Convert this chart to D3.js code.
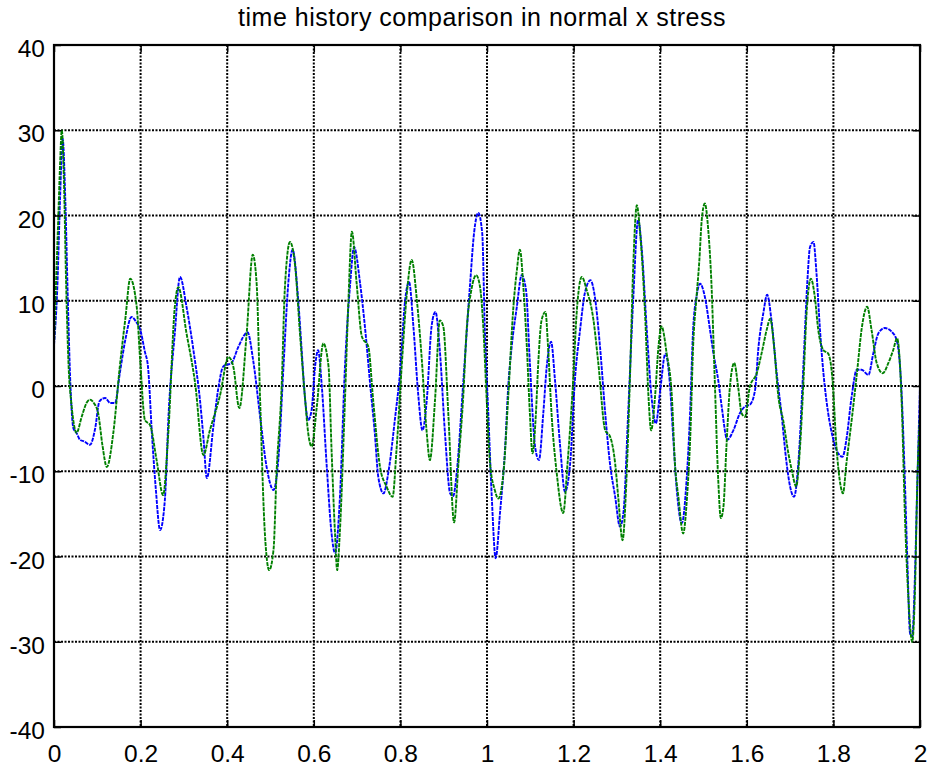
<!DOCTYPE html>
<html>
<head>
<style>
body { margin: 0; background: #fff; }
text { font-family: "Liberation Sans", Arial, sans-serif; fill: #000; }
.grid line { stroke: #000; stroke-width: 2; stroke-dasharray: 2,1.5; }
.trace { fill: none; stroke-width: 1.9; stroke-dasharray: 4,1; }
</style>
<script src="https://d3js.org/d3.v7.min.js"></script>
</head>
<body>
<svg width="934" height="772"></svg>
<script>
// tick labels
var xTicks = [0, 0.2, 0.4, 0.6, 0.8, 1, 1.2, 1.4, 1.6, 1.8, 2];
var xTickLabels = ["0", "0.2", "0.4", "0.6", "0.8", "1", "1.2", "1.4", "1.6", "1.8", "2"];
var yTicks = [-40, -30, -20, -10, 0, 10, 20, 30, 40];
var yTickLabels = ["-40", "-30", "-20", "-10", "0", "10", "20", "30", "40"];

// blue trace (time, stress)
var blueT = [0,0.008,0.014,0.020,0.026,0.032,0.038,0.045,0.052,0.060,0.070,0.083,0.095,0.105,0.118,0.130,0.141,0.152,0.165,0.179,0.190,0.199,0.210,0.217,0.226,0.235,0.245,0.256,0.265,0.279,0.291,0.306,0.322,0.337,0.345,0.353,0.368,0.380,0.391,0.410,0.425,0.447,0.460,0.476,0.491,0.507,0.518,0.530,0.541,0.551,0.564,0.572,0.580,0.587,0.595,0.603,0.610,0.618,0.630,0.641,0.649,0.660,0.672,0.684,0.693,0.707,0.718,0.730,0.741,0.749,0.761,0.772,0.788,0.799,0.811,0.820,0.830,0.841,0.851,0.861,0.872,0.881,0.891,0.903,0.915,0.922,0.930,0.945,0.961,0.970,0.980,0.989,0.995,1.003,1.011,1.020,1.030,1.042,1.049,1.057,1.069,1.080,1.090,1.099,1.111,1.120,1.130,1.138,1.148,1.157,1.169,1.180,1.192,1.203,1.215,1.226,1.239,1.249,1.261,1.273,1.284,1.296,1.307,1.315,1.326,1.338,1.349,1.357,1.369,1.380,1.390,1.400,1.412,1.422,1.430,1.438,1.450,1.461,1.469,1.476,1.484,1.492,1.503,1.515,1.523,1.534,1.542,1.555,1.569,1.584,1.596,1.607,1.619,1.627,1.638,1.647,1.657,1.669,1.680,1.692,1.700,1.709,1.719,1.731,1.740,1.746,1.754,1.761,1.769,1.777,1.788,1.800,1.811,1.821,1.830,1.842,1.854,1.865,1.881,1.892,1.904,1.919,1.934,1.946,1.958,1.965,1.971,1.977,1.982,1.988,1.994,2.000];
var blueY = [4.8,12,22,29,22,10,0,-5,-5.5,-6.3,-6.5,-6.9,-5,-1.8,-1.4,-2.0,-2.0,1.5,5.5,8.1,7.5,6.6,4,2.3,-5.5,-12,-16.9,-13.4,-3,6.2,12.8,9.3,4.2,-1.6,-6,-10.8,-4.8,-0.1,2.3,2.7,4.5,6.3,3.0,-3.6,-9.5,-12.2,-8.7,2.3,12.0,16.0,10.1,4.2,-1.6,-4.0,-2.8,2.3,4.2,0.3,-9.5,-17.3,-19.6,-13.4,2.3,12.0,16.3,12.0,7.0,0.3,-5.6,-10.7,-12.6,-10.2,-3.6,1.5,10.1,12.2,7.0,-0.9,-5.2,-1.6,7.0,8.7,4.2,-5.6,-12.6,-12.9,-10.2,0.3,12.0,17.9,20.3,17.9,6.6,-3.2,-13,-20.2,-14.9,-7.1,-0.1,4.6,9.3,13.0,11.3,2.7,-7.1,-8.7,-3.2,2.3,5.2,0.7,-7.1,-12.4,-9.1,0.7,6.6,10.9,12.4,10.5,4.6,-3.2,-9.1,-13.0,-16.5,-14.9,-3.2,10.5,19.5,16.3,6.6,-1.3,-4.4,-0.5,3.8,0.5,-6,-12,-16.1,-11.0,-3.2,6.6,10.5,12.0,10.5,6.6,3.8,0.7,-2.4,-6.3,-5.2,-3.2,-2.4,-2.2,-0.5,4.6,8.5,10.7,7.7,1.5,-3.2,-9.1,-11.8,-13.0,-9.1,2.7,12.4,16.3,16.9,13.2,6.6,1.5,-3.2,-6.3,-7.9,-8.3,-6.3,-1.3,1.9,1.9,1.3,3.8,6.2,6.8,6.4,5.4,-1.3,-11,-20.8,-29.0,-29.4,-22.8,-11,-0.1];

// green trace (time, stress)
var greenT = [0,0.006,0.010,0.014,0.018,0.023,0.028,0.034,0.040,0.046,0.052,0.064,0.075,0.083,0.092,0.102,0.112,0.122,0.137,0.152,0.165,0.176,0.191,0.199,0.210,0.222,0.237,0.252,0.264,0.279,0.287,0.306,0.326,0.345,0.360,0.383,0.403,0.414,0.428,0.445,0.459,0.468,0.476,0.487,0.497,0.507,0.514,0.526,0.533,0.545,0.557,0.568,0.580,0.587,0.595,0.607,0.622,0.634,0.641,0.649,0.654,0.660,0.672,0.680,0.688,0.699,0.711,0.726,0.737,0.753,0.768,0.782,0.791,0.803,0.815,0.826,0.838,0.849,0.861,0.868,0.880,0.891,0.899,0.911,0.924,0.934,0.945,0.953,0.964,0.975,0.984,0.991,0.999,1.007,1.018,1.026,1.038,1.049,1.061,1.069,1.076,1.084,1.092,1.099,1.105,1.113,1.118,1.126,1.135,1.141,1.149,1.161,1.176,1.186,1.199,1.207,1.219,1.230,1.246,1.257,1.273,1.284,1.296,1.303,1.313,1.322,1.330,1.338,1.346,1.353,1.365,1.373,1.379,1.388,1.396,1.403,1.415,1.427,1.434,1.442,1.453,1.462,1.470,1.476,1.484,1.490,1.496,1.503,1.511,1.518,1.526,1.534,1.540,1.546,1.553,1.561,1.571,1.580,1.588,1.596,1.607,1.623,1.634,1.646,1.654,1.663,1.673,1.684,1.696,1.704,1.714,1.723,1.731,1.738,1.748,1.757,1.765,1.777,1.788,1.798,1.807,1.817,1.822,1.830,1.844,1.856,1.865,1.878,1.888,1.900,1.914,1.927,1.938,1.947,1.958,1.965,1.973,1.982,1.988,1.994,2.000];
var greenY = [4.8,14,19.9,26,30,24,12,2,-2,-4.5,-5.5,-3.6,-2,-1.6,-2,-3.2,-7,-9.5,-5.5,2.3,8,12.6,9.3,3.0,-4.0,-4.6,-8.7,-12.8,-5.5,9.3,11.6,6.2,0.3,-8.1,-5.2,-1.2,3.4,2.3,-2.6,6.2,15.4,12,-1.6,-17.3,-21.6,-19.2,-10.2,0.3,11.3,16.9,14.0,6.2,-1.6,-5.5,-7.1,-2.4,5.0,2.3,-7.5,-17.3,-21.6,-17.3,-1.6,10.1,18.1,12.0,5.8,4.6,-1.6,-9.5,-11.8,-13.0,-7.5,2.3,10.9,14.8,10.1,3.4,-5.6,-8.7,-1.6,7.7,7.0,-3.6,-16.0,-9.1,-1.3,6.6,11.3,13.0,11.6,7.3,-1.3,-9.1,-12.2,-13.2,-10.2,-1.3,9.3,13.6,16.0,11.6,4.6,-3.2,-7.9,-3.2,2.3,7.7,8.7,4.6,-3.2,-10.2,-14.9,-9.1,0.7,8.5,12.8,11.3,7.7,2.7,-5.2,-5.9,-9.1,-13.0,-18.1,-11.0,0.7,14.4,21.2,18.3,8.5,-1.3,-5.2,-1.3,4.6,7.0,3.8,-1.3,-9.1,-13,-17.3,-13,-5.2,4.6,10.5,14.4,19.5,21.4,18.3,12.4,0.7,-11,-15.5,-14.2,-7.1,-0.1,2.7,-0.1,-3.2,-3.6,-0.1,1.5,3.8,6.6,7.9,4.6,-1.3,-4,-7.9,-9.9,-11.8,-7.1,0.7,8.5,12.6,10.5,6.6,4.2,3.8,0.7,-7.1,-11.8,-12.6,-9.1,-3.2,2.3,6.6,9.3,6.6,2.7,1.5,2.7,4.2,5.6,-2.4,-14.9,-24.7,-30.0,-24.7,-11,-3.2];

var margin = {top: 45, right: 14, bottom: 45, left: 54};
var width = 934 - margin.left - margin.right;
var height = 772 - margin.top - margin.bottom;

var svg = d3.select("svg");
svg.append("rect").attr("width", 934).attr("height", 772).attr("fill", "#fff");

var g = svg.append("g")
  .attr("transform", "translate(" + margin.left + "," + margin.top + ")");

var xScale = d3.scaleLinear().domain([0, 2]).range([0, width]);
var yScale = d3.scaleLinear().domain([-40, 40]).range([height, 0]);

// dotted grid
var grid = g.append("g").attr("class", "grid");
grid.selectAll(".gx")
  .data(xTicks.slice(1, -1))
  .enter().append("line")
  .attr("x1", d => xScale(d)).attr("x2", d => xScale(d))
  .attr("y1", 0).attr("y2", height);
grid.selectAll(".gy")
  .data(yTicks.slice(1, -1))
  .enter().append("line")
  .attr("y1", d => yScale(d)).attr("y2", d => yScale(d))
  .attr("x1", 0).attr("x2", width);

// traces
function toPoints(ts, ys) {
  return ts.map((t, i) => ({t: t, v: ys[i]}));
}
var line = d3.line()
  .x(d => xScale(d.t))
  .y(d => yScale(d.v))
  .curve(d3.curveMonotoneX);

g.append("path").attr("class", "trace")
  .attr("stroke", "#0000ff")
  .attr("d", line(toPoints(blueT, blueY)));
g.append("path").attr("class", "trace")
  .attr("stroke", "#008000")
  .attr("d", line(toPoints(greenT, greenY)));

// axes with inward ticks
var axisB = d3.axisBottom(xScale).tickValues(xTicks)
  .tickFormat((d, i) => xTickLabels[i])
  .tickSizeInner(-7).tickSizeOuter(0).tickPadding(18);
var axisL = d3.axisLeft(yScale).tickValues(yTicks)
  .tickFormat((d, i) => yTickLabels[i])
  .tickSizeInner(-7).tickSizeOuter(0).tickPadding(9);
var axisT = d3.axisTop(xScale).tickValues(xTicks).tickFormat("")
  .tickSizeInner(-7).tickSizeOuter(0);
var axisR = d3.axisRight(yScale).tickValues(yTicks).tickFormat("")
  .tickSizeInner(-7).tickSizeOuter(0);

var gb = g.append("g").attr("transform", "translate(0," + height + ")").call(axisB);
var gl = g.append("g").call(axisL);
var gt = g.append("g").call(axisT);
var gr = g.append("g").attr("transform", "translate(" + width + ",0)").call(axisR);

[gb, gl, gt, gr].forEach(function(a) {
  a.select(".domain").remove();
  a.selectAll(".tick line").attr("stroke", "#000").attr("stroke-width", 1.5);
  a.selectAll("text").attr("font-size", 24.5)
    .attr("font-family", "'Liberation Sans', Arial, sans-serif").attr("fill", "#000");
});
gl.selectAll("text").attr("dy", "0.47em");

// box
g.append("rect")
  .attr("width", width).attr("height", height)
  .attr("fill", "none").attr("stroke", "#000").attr("stroke-width", 2.2);

// title
svg.append("text")
  .attr("x", 482).attr("y", 26)
  .attr("text-anchor", "middle")
  .attr("font-size", 25)
  .attr("letter-spacing", 0.5)
  .text("time history comparison in normal x stress");
</script>
</body>
</html>
